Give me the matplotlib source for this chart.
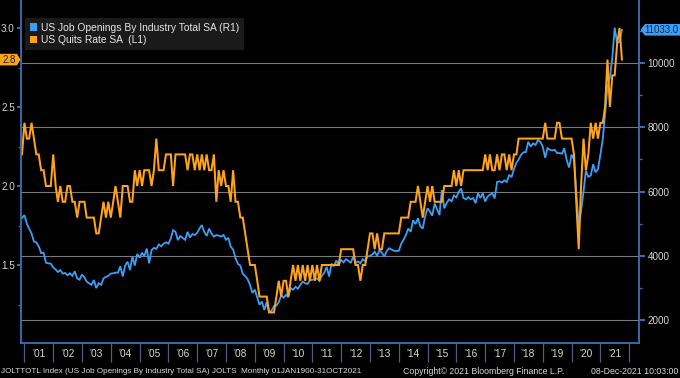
import matplotlib
matplotlib.use('Agg')
import matplotlib.pyplot as plt
import matplotlib.dates as mdates
from matplotlib.ticker import FixedLocator, FixedFormatter, NullFormatter, FormatStrFormatter
from matplotlib.patches import Patch, Polygon
from matplotlib.transforms import IdentityTransform
import pandas as pd

# ---------------- data ----------------
dates = pd.date_range('2000-12-01', periods=251, freq='MS')

quits_rate = [
    2.2,
    2.4, 2.3, 2.3, 2.4, 2.3, 2.2, 2.2, 2.1, 2.1, 2.0, 2.0, 2.0,   # 2001
    2.2, 2.0, 1.9, 2.0, 1.9, 1.9, 2.0, 2.0, 1.9, 1.9, 1.8, 1.9,   # 2002
    1.9, 1.9, 1.8, 1.8, 1.8, 1.8, 1.7, 1.7, 1.8, 1.9, 1.8, 1.9,   # 2003
    1.8, 1.9, 2.0, 1.9, 1.8, 2.0, 2.0, 2.0, 1.9, 1.9, 2.1, 2.0,   # 2004
    2.1, 2.0, 2.1, 2.1, 2.1, 2.0, 2.1, 2.3, 2.1, 2.1, 2.1, 2.2,   # 2005
    2.2, 2.2, 2.0, 2.2, 2.2, 2.2, 2.2, 2.2, 2.1, 2.2, 2.2, 2.1,   # 2006
    2.2, 2.1, 2.2, 2.1, 2.2, 2.1, 2.1, 2.2, 1.9, 2.1, 2.0, 2.1,   # 2007
    2.0, 2.0, 1.9, 2.1, 1.9, 1.9, 1.8, 1.8, 1.7, 1.6, 1.5, 1.5,   # 2008
    1.5, 1.4, 1.3, 1.3, 1.3, 1.3, 1.2, 1.2, 1.2, 1.3, 1.4, 1.3,   # 2009
    1.4, 1.4, 1.3, 1.4, 1.5, 1.4, 1.5, 1.4, 1.5, 1.4, 1.5, 1.4,   # 2010
    1.5, 1.4, 1.5, 1.4, 1.5, 1.5, 1.5, 1.5, 1.5, 1.5, 1.5, 1.5,   # 2011
    1.6, 1.6, 1.6, 1.6, 1.6, 1.6, 1.5, 1.5, 1.4, 1.5, 1.5, 1.6,   # 2012
    1.7, 1.7, 1.6, 1.7, 1.6, 1.6, 1.7, 1.7, 1.7, 1.7, 1.7, 1.7,   # 2013
    1.7, 1.8, 1.8, 1.8, 1.8, 1.9, 1.9, 1.9, 2.0, 1.9, 1.8, 1.9,   # 2014
    2.0, 1.9, 2.0, 1.9, 1.9, 1.9, 1.9, 2.0, 2.0, 2.0, 2.0, 2.1,   # 2015
    2.0, 2.1, 2.0, 2.1, 2.1, 2.1, 2.1, 2.1, 2.1, 2.1, 2.1, 2.1,   # 2016
    2.2, 2.1, 2.2, 2.1, 2.1, 2.2, 2.1, 2.2, 2.2, 2.1, 2.2, 2.1,   # 2017
    2.2, 2.2, 2.3, 2.3, 2.3, 2.3, 2.3, 2.3, 2.3, 2.3, 2.3, 2.3,   # 2018
    2.3, 2.4, 2.3, 2.3, 2.3, 2.3, 2.4, 2.4, 2.3, 2.3, 2.3, 2.3,   # 2019
    2.3, 2.2, 1.9, 1.6, 2.0, 2.3, 2.1, 2.2, 2.4, 2.3, 2.4, 2.3,   # 2020
    2.4, 2.4, 2.5, 2.8, 2.5, 2.7, 2.7, 2.9, 3.0, 2.8,             # 2021
]

job_openings = [
    5180,
    5270, 5000, 4850, 4700, 4450, 4420, 4300, 4090, 4100, 3790, 3770, 3760,   # 2001
    3640, 3580, 3500, 3560, 3450, 3470, 3400, 3460, 3380, 3520, 3300, 3260,   # 2002
    3420, 3330, 3200, 3150, 3100, 3250, 3000, 3150, 3100, 3300, 3350, 3380,   # 2003
    3450, 3460, 3480, 3480, 3680, 3360, 3700, 3820, 3560, 3980, 3700, 4060,   # 2004
    3950, 4100, 3990, 4230, 3770, 4180, 4250, 4220, 4360, 4300, 4380, 4420,   # 2005
    4380, 4550, 4800, 4750, 4490, 4620, 4560, 4500, 4750, 4570, 4680, 4650,   # 2006
    4720, 4860, 4960, 4750, 4620, 4850, 4700, 4600, 4650, 4630, 4600, 4650,   # 2007
    4500, 4560, 4290, 4200, 3930, 3750, 3700, 3450, 3370, 3280, 3100, 2850,   # 2008
    2950, 2700, 2480, 2580, 2320, 2560, 2240, 2300, 2440, 2450, 2560, 2780,   # 2009
    2700, 2790, 2720, 3000, 2950, 3040, 2980, 3100, 3200, 3150, 3130, 3240,   # 2010
    3260, 3270, 3300, 3220, 3380, 3480, 3660, 3360, 3760, 3680, 3860, 3700,   # 2011
    3880, 3800, 3900, 3850, 3780, 3980, 3780, 3830, 3770, 3900, 3840, 3980,   # 2012
    4000, 4050, 4130, 4000, 4180, 4100, 3980, 4150, 4240, 4200, 4160, 4150,   # 2013
    4160, 4380, 4500, 4650, 4850, 4750, 5110, 4990, 5170, 4920, 4850, 5230,   # 2014
    5480, 5380, 5250, 5630, 5450, 5270, 6050, 5480, 5650, 5760, 5700, 5880,   # 2015
    5820, 6000, 6100, 5800, 5760, 5830, 5760, 5800, 5640, 5950, 5800, 5950,   # 2016
    5690, 5850, 5900, 5950, 5790, 6300, 6320, 6280, 6350, 6300, 6520, 6450,   # 2017
    6700, 6900, 7000, 7150, 7220, 7230, 7550, 7400, 7500, 7450, 7600, 7550,   # 2018
    7400, 7050, 7350, 7300, 7280, 7300, 7200, 7200, 7180, 7350, 6980, 6750,   # 2019
    7150, 7000, 6000, 4950, 5400, 6000, 6650, 6460, 6500, 6850, 6600, 6700,   # 2020
    7150, 7650, 8400, 9250, 9550, 10150, 11100, 10630, 10650, 11033,          # 2021
]

year_labels = ["'%02d" % (y % 100) for y in range(2001, 2022)]
left_ticks = [1.5, 2.0, 2.5, 3.0]
right_ticks = [2000, 4000, 6000, 8000, 10000]
legend_labels = ['US Job Openings By Industry Total SA (R1)', 'US Quits Rate SA  (L1)']
footer_left = 'JOLTTOTL Index (US Job Openings By Industry Total SA) JOLTS  Monthly 01JAN1900-31OCT2021'
footer_mid = 'Copyright\u00a9 2021 Bloomberg Finance L.P.'
footer_right = '08-Dec-2021 10:03:00'

# ---------------- style ----------------
BLUE = '#3d9ef5'
ORANGE = '#ffa31a'
AXCOL = '#3a6db0'
TXT = '#d8d8d8'
GRID = '#7a7a7a'
plt.rcParams['font.family'] = ['Liberation Sans', 'DejaVu Sans']

W, H = 680, 378
fig = plt.figure(figsize=(W / 100, H / 100), dpi=100, facecolor='black')
L, R, T, B = 21, 639, 0, 343
ax = fig.add_axes([L / W, 1 - B / H, (R - L) / W, (B - T) / H])
ax.set_facecolor('black')
ax2 = ax.twinx()

# right-scale axis (job openings) on ax, left-scale (quits) on ax2
ax.yaxis.tick_right()
ax2.yaxis.tick_left()

x0 = mdates.date2num(dates[0])
px_per_day = 2.4 / 30.44
ax.set_xlim(x0 - 1 / px_per_day, x0 + (R - 22) / px_per_day)

ax.set_ylim(10000 - (B - 63) * 31.1, 10000 + 63 * 31.1)
ax2.set_ylim(2.0 - (B - 186) / 158.0, 2.0 + 186 / 158.0)

ax.plot(dates, job_openings, color=BLUE, lw=1.3, solid_joinstyle='miter')
ax2.plot(dates, quits_rate, color=ORANGE, lw=1.45, solid_joinstyle='miter')

# grid on right-axis ticks
ax.yaxis.set_major_locator(FixedLocator(right_ticks))
ax.yaxis.set_minor_locator(FixedLocator([3000, 5000, 7000, 9000, 11000]))
ax.yaxis.set_major_formatter(FormatStrFormatter('%d'))
ax.grid(axis='y', which='major', color=GRID, lw=0.8)
ax.tick_params(axis='y', which='major', direction='out', length=4, width=1.4,
               color=AXCOL, labelcolor=TXT, labelsize=7.1, pad=2)
ax.tick_params(axis='y', which='minor', direction='out', length=2, width=1.0, color=AXCOL)

ax2.yaxis.set_major_locator(FixedLocator(left_ticks))
ax2.yaxis.set_minor_locator(FixedLocator([1.25, 1.75, 2.25, 2.75]))
ax2.yaxis.set_major_formatter(FormatStrFormatter('%.1f'))
ax2.tick_params(axis='y', which='major', direction='out', length=3, width=1.4,
                color=AXCOL, labelcolor=TXT, labelsize=7.1, pad=1.5)
ax2.tick_params(axis='y', which='minor', direction='out', length=2, width=1.0, color=AXCOL)

# x axis: separators at January, labels at mid-year
jan = [mdates.date2num(pd.Timestamp(y, 1, 1)) for y in range(2001, 2023)]
mid = [mdates.date2num(pd.Timestamp(y, 7, 2)) for y in range(2001, 2022)]
ax.xaxis.set_major_locator(FixedLocator(jan))
ax.xaxis.set_major_formatter(NullFormatter())
ax.xaxis.set_minor_locator(FixedLocator(mid))
ax.xaxis.set_minor_formatter(FixedFormatter(year_labels))
ax.tick_params(axis='x', which='major', direction='out', length=14, width=0.9, color='#4b5f80')
ax.tick_params(axis='x', which='minor', length=0, pad=4.5, labelcolor=TXT, labelsize=7.3)

for a in (ax, ax2):
    a.spines['top'].set_visible(False)
    for s in ('left', 'right', 'bottom'):
        a.spines[s].set_color(AXCOL)
        a.spines[s].set_linewidth(1.1)

# legend
handles = [Patch(facecolor=BLUE, edgecolor='none'), Patch(facecolor=ORANGE, edgecolor='none')]
leg = fig.legend(handles, legend_labels, loc='upper left',
                 bbox_to_anchor=(25 / W, 1 - 18 / H), bbox_transform=fig.transFigure,
                 fontsize=7.4, frameon=True, facecolor='#1a1a1a', edgecolor='none', framealpha=1,
                 handlelength=0.75, handleheight=0.75, handletextpad=0.35, labelspacing=0.25,
                 borderpad=0.45, borderaxespad=0, fancybox=False)
for t in leg.get_texts():
    t.set_color('#e6e6e6')
leg.get_frame().set_linewidth(0)

# last-value tags
fig.canvas.draw()
_, yq = ax2.transData.transform((x0, quits_rate[-1]))
_, yj = ax.transData.transform((x0, job_openings[-1]))
hh = 5.8
lt = Polygon([(0, yq - hh), (17, yq - hh), (20.5, yq), (17, yq + hh), (0, yq + hh)],
             closed=True, transform=IdentityTransform(), facecolor=ORANGE, edgecolor='none')
fig.patches.append(lt)
fig.text(9, yq, '%.1f' % quits_rate[-1], transform=IdentityTransform(), ha='center', va='center',
         fontsize=7, color='#1e1e1e')
rt = Polygon([(640.5, yj), (645, yj - hh), (W, yj - hh), (W, yj + hh), (645, yj + hh)],
             closed=True, transform=IdentityTransform(), facecolor=BLUE, edgecolor='none')
fig.patches.append(rt)
fig.text(661.5, yj, '%.1f' % job_openings[-1], transform=IdentityTransform(), ha='center', va='center',
         fontsize=7, color='#0d2b4d')

# footer
fy = 6.5 / H
fig.text(1 / W, fy, footer_left, ha='left', va='center', fontsize=5.85, color=TXT)
fig.text(403 / W, fy, footer_mid, ha='left', va='center', fontsize=6.3, color=TXT)
fig.text(678 / W, fy, footer_right, ha='right', va='center', fontsize=6.3, color=TXT)

fig.savefig('out.png', dpi=100, facecolor='black')
